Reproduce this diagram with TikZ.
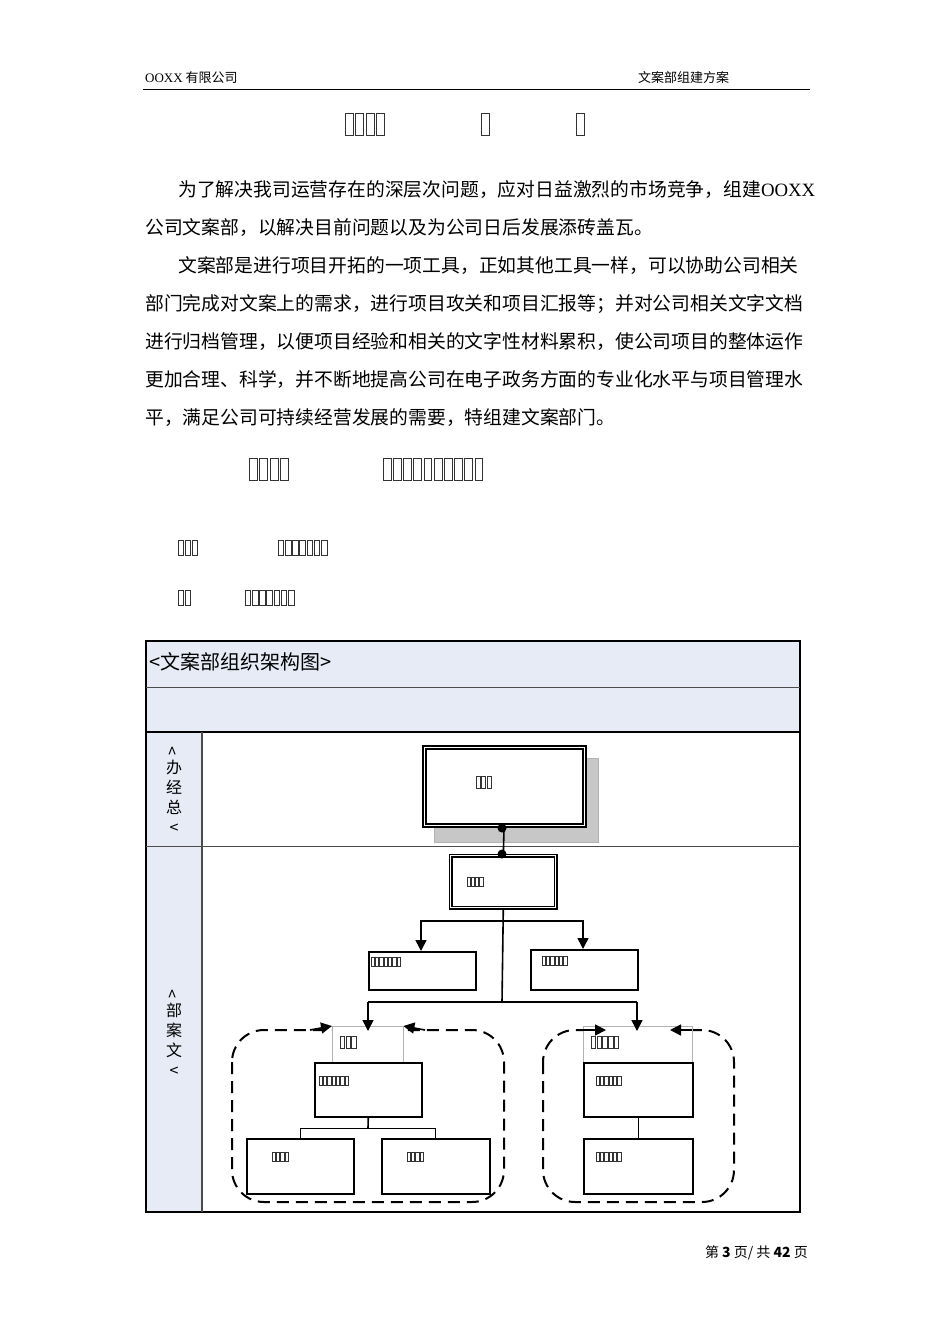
\documentclass[tikz,border=0pt]{standalone}
\usepackage{fontspec}
\setmainfont{Noto Sans CJK SC}
\newfontfamily\latinserif{Liberation Serif}
\usetikzlibrary{arrows.meta}
\definecolor{hdrblue}{HTML}{E6EBF6}
\newcommand\tofurow[5]{\foreach \ti in {1,...,#3}{\draw[black!80,line width=0.6] ({#1+(\ti-1)*#4},#2) rectangle ++({#4*0.78},#5);}}
\tikzset{
 bodytxt/.style={anchor=west,inner sep=0,font=\fontsize{18.8}{20}\selectfont},
 orgbox/.style={draw,line width=1.6,fill=white},
 dblbox/.style={draw,line width=1,double=white,double distance=0.8,fill=white},
 arr/.style={line width=1.6,-{Triangle[length=11,width=11]}},
 ln/.style={line width=1.6},
 dsh/.style={line width=2,dash pattern=on 12 off 7,rounded corners=32}
}
\begin{document}
\begin{tikzpicture}[x=1pt,y=-1pt]
\useasboundingbox (0,0) rectangle (950,1344);
% header
\node[anchor=west,inner sep=0,font=\fontsize{13}{14}\selectfont] (h1) at (145,78) {{\latinserif OOXX} 有限公司};
\node[anchor=west,inner sep=0,font=\fontsize{13}{14}\selectfont] (h2) at (638,78) {文案部组建方案};
\draw[line width=1] (143,89) -- (810,89);
% title tofus
\tofurow{345}{113}{4}{10.5}{22}
\tofurow{481}{113}{1}{10.5}{22}
\tofurow{576}{113}{1}{10.5}{22}
% body
\node[bodytxt] (p1) at (178,190) {为了解决我司运营存在的深层次问题，应对日益激烈的市场竞争，组建{\latinserif OOXX}};
\node[bodytxt] (p2) at (145,228) {公司文案部，以解决目前问题以及为公司日后发展添砖盖瓦。};
\node[bodytxt] (p3) at (178,266) {文案部是进行项目开拓的一项工具，正如其他工具一样，可以协助公司相关};
\node[bodytxt] (p4) at (145,304) {部门完成对文案上的需求，进行项目攻关和项目汇报等；并对公司相关文字文档};
\node[bodytxt] (p5) at (145,342) {进行归档管理，以便项目经验和相关的文字性材料累积，使公司项目的整体运作};
\node[bodytxt] (p6) at (145,380) {更加合理、科学，并不断地提高公司在电子政务方面的专业化水平与项目管理水};
\node[bodytxt] (p7) at (145,418) {平，满足公司可持续经营发展的需要，特组建文案部门。};
% section tofus
\tofurow{249}{458}{4}{10.5}{22}
\tofurow{383}{458}{10}{10.2}{22}
\tofurow{178}{540}{3}{7}{15}
\tofurow{278}{540}{7}{7.2}{15}
\tofurow{178}{590}{2}{7}{15}
\tofurow{245}{590}{7}{7.2}{15}
% table
\fill[hdrblue] (146,641) rectangle (800,732);
\fill[hdrblue] (146,732) rectangle (202,1212);
\draw[line width=1.2] (146,641) rectangle (800,1212);
\draw[black!70,line width=0.8] (146,687) -- (800,687);
\draw[line width=1.4] (146,732) -- (800,732);
\draw[black!70,line width=0.8] (146,846) -- (800,846);
\draw[black!70,line width=1.4] (202,732) -- (202,1212);
\node[anchor=west,inner sep=0,font=\fontsize{20}{22}\selectfont] (ttl) at (149,662) {<文案部组织架构图>};
\node[align=center,inner sep=0,font=\fontsize{16}{20}\selectfont] (lab1) at (174,790) {\rotatebox{90}{>}\\[-2pt]办\\经\\总\\<};
\node[align=center,inner sep=0,font=\fontsize{16}{20}\selectfont] (lab2) at (174,1033) {\rotatebox{90}{>}\\[-2pt]部\\案\\文\\<};
% top box
\fill[black!22] (434,758) rectangle (598,842);
\draw[black!30] (434,758) rectangle (598,842);
\node[dblbox,line width=2.2,minimum width=160,minimum height=78,anchor=north west] (top) at (423,746) {};
\tofurow{476}{776}{3}{5.5}{12}
\node[dblbox,line width=1.6,minimum width=105,minimum height=52,anchor=north west] (b2) at (450,855) {};
\tofurow{467}{877}{4}{4.2}{9}
\draw[ln] (top.south) -- (b2.north);
\fill (502,828) circle (4.5) (502,854) circle (4.5);
% second level
\node[orgbox,minimum width=107,minimum height=38,anchor=north west] (b3) at (368,951) {};
\node[orgbox,minimum width=107,minimum height=40,anchor=north west] (b4) at (530,949) {};
\tofurow{371}{957}{7}{4.3}{9}
\tofurow{542}{956}{6}{4.3}{9}
\coordinate (j1) at (502,921);
\coordinate (j2) at (502,1002);
\draw[ln] (b2.south) -- (j2);
\draw[arr] (j1) -| (b3.north -| 421,921);
\draw[arr] (j1) -| (b4.north -| 583,921);
% dashed groups
\draw[dsh] (232,1030) rectangle (504,1202);
\draw[dsh] (543,1030) rectangle (734,1202);
\fill[white] (332,1026) rectangle (403,1062);
\fill[white] (583,1026) rectangle (692,1062);
\node[draw=black!30,minimum width=71,minimum height=36,anchor=north west,inner sep=0] (g1) at (332,1026) {};
\node[draw=black!30,minimum width=109,minimum height=36,anchor=north west,inner sep=0] (g2) at (583,1026) {};
\tofurow{340}{1036}{3}{5.8}{12}
\tofurow{591}{1036}{5}{5.8}{12}
\coordinate (a1) at (310,1030); \coordinate (a2) at (425,1030);
\coordinate (a3) at (578,1030); \coordinate (a4) at (692,1030);
\draw[arr] (a1) -- (g1.north west);
\draw[arr] (a2) -- (g1.north east);
\draw[arr] (a3) -- (606,1030);
\draw[arr] (a4) -- (670,1030);
\draw[ln] (j2) -- (368,1002) coordinate (k1);
\draw[ln] (j2) -- (637,1002) coordinate (k2);
\draw[arr] (k1) -- (368,1031);
\draw[arr] (k2) -- (637,1031);
% inner boxes
\node[orgbox,minimum width=107,minimum height=54,anchor=north west] (l1) at (314,1062) {};
\node[orgbox,minimum width=107,minimum height=55,anchor=north west] (l2) at (246,1138) {};
\node[orgbox,minimum width=108,minimum height=55,anchor=north west] (l3) at (381,1138) {};
\node[orgbox,minimum width=109,minimum height=54,anchor=north west] (r1) at (583,1062) {};
\node[orgbox,minimum width=109,minimum height=55,anchor=north west] (r2) at (583,1138) {};
\tofurow{319}{1076}{7}{4.3}{9}
\tofurow{272}{1152}{4}{4.3}{9}
\tofurow{407}{1152}{4}{4.3}{9}
\tofurow{596}{1076}{6}{4.3}{9}
\tofurow{596}{1152}{6}{4.3}{9}
\draw[ln] (l1.south) -- (368,1128) coordinate (m);
\draw[line width=1] (300,1138) |- (m) -| (435,1138);
\draw[ln] (r1.south) -- (r2.north);
% footer
\node[anchor=east,inner sep=0,font=\fontsize{14}{16}\selectfont] (ft) at (808,1253) {第 \textbf{3} 页/ 共 \textbf{42} 页};
\end{tikzpicture}
\end{document}
